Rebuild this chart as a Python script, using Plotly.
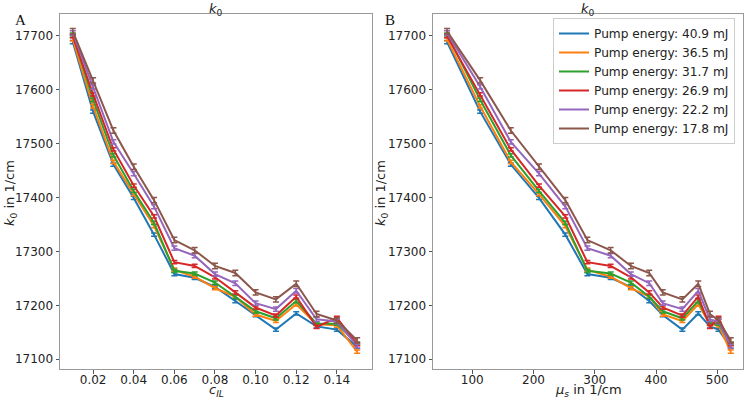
import plotly.graph_objects as go

W, H = 746, 400

c_il = [0.01, 0.02, 0.03, 0.04, 0.05, 0.06, 0.07, 0.08, 0.09, 0.10, 0.11, 0.12, 0.13, 0.14, 0.15]
mu_s = [59, 113, 163, 209, 252, 288, 326, 359, 389, 411, 443, 469, 488, 502, 522]

labels = ["Pump energy: 40.9 mJ", "Pump energy: 36.5 mJ", "Pump energy: 31.7 mJ",
          "Pump energy: 26.9 mJ", "Pump energy: 22.2 mJ", "Pump energy: 17.8 mJ"]
colors = ["#1f77b4", "#ff7f0e", "#2ca02c", "#d62728", "#9467bd", "#8c564b"]

k0_409 = [17688, 17559, 17461, 17399, 17331, 17258, 17251, 17234, 17208, 17182, 17155, 17185, 17161, 17155, 17123]
k0_365 = [17693, 17569, 17466, 17406, 17347, 17266, 17253, 17232, 17216, 17183, 17171, 17202, 17165, 17163, 17114]
k0_317 = [17702, 17581, 17478, 17412, 17353, 17264, 17259, 17242, 17216, 17189, 17176, 17208, 17166, 17166, 17129]
k0_269 = [17699, 17591, 17489, 17422, 17365, 17280, 17273, 17252, 17224, 17196, 17181, 17216, 17160, 17177, 17128]
k0_222 = [17705, 17605, 17503, 17444, 17383, 17306, 17292, 17258, 17241, 17204, 17193, 17227, 17174, 17170, 17125]
k0_178 = [17708, 17617, 17524, 17457, 17395, 17321, 17302, 17273, 17260, 17224, 17211, 17240, 17184, 17172, 17135]
series = [k0_409, k0_365, k0_317, k0_269, k0_222, k0_178]

err_409 = [3, 3, 3, 3, 3, 3, 3, 3, 3, 3, 3, 3, 3, 3, 3]
err_365 = [3, 3, 3, 3, 3, 3, 3, 3, 3, 3, 3, 3, 3, 3, 3]
err_317 = [3, 3, 3, 3, 3, 3, 3, 3, 3, 3, 3, 3, 3, 3, 3]
err_269 = [3, 3, 3, 3, 3, 3, 3, 3, 3, 3, 3, 3, 3, 3, 3]
err_222 = [4, 4, 4, 4, 4, 4, 4, 4, 4, 4, 4, 4, 4, 4, 4]
err_178 = [5, 5, 5, 5, 5, 5, 5, 5, 5, 5, 5, 5, 5, 5, 5]
errors = [err_409, err_365, err_317, err_269, err_222, err_178]


def px(x):
    return x / W


def py(y):
    return (H - y) / H


fig = go.Figure()
for i in range(6):
    fig.add_trace(go.Scatter(
        x=c_il, y=series[i], mode="lines", name=labels[i], showlegend=False,
        line=dict(color=colors[i], width=2),
        error_y=dict(type="data", array=errors[i], color=colors[i], thickness=1.5, width=3),
        xaxis="x", yaxis="y"))
for i in range(6):
    fig.add_trace(go.Scatter(
        x=mu_s, y=series[i], mode="lines", name=labels[i], showlegend=True,
        line=dict(color=colors[i], width=2),
        error_y=dict(type="data", array=errors[i], color=colors[i], thickness=1.5, width=3),
        xaxis="x2", yaxis="y2"))

frame = dict(showline=True, linecolor="#999999", linewidth=1, mirror=True, showgrid=False,
             zeroline=False, ticks="outside", ticklen=3.5, tickcolor="#555555",
             tickfont=dict(family="DejaVu Sans", size=12, color="#222222"))
yrange = [17082, 17740]

fig.update_layout(
    width=W, height=H,
    margin=dict(l=0, r=0, t=0, b=0),
    paper_bgcolor="white", plot_bgcolor="white",
    xaxis=dict(domain=[px(60), px(372)], range=[0.0037, 0.1573],
               tickvals=[0.02, 0.04, 0.06, 0.08, 0.10, 0.12, 0.14],
               tickformat=".2f", anchor="y", ticklabelstandoff=-4, **frame),
    yaxis=dict(domain=[py(369), py(14)], range=yrange, dtick=100, tick0=17100, tickformat="d", anchor="x", **frame),
    xaxis2=dict(domain=[px(433), px(743)], range=[36, 542], tickvals=[100, 200, 300, 400, 500],
                anchor="y2", ticklabelstandoff=-4, **frame),
    yaxis2=dict(domain=[py(369), py(14)], range=yrange, dtick=100, tick0=17100, tickformat="d", anchor="x2", **frame),
    legend=dict(x=px(553), y=py(18), xanchor="left", yanchor="top",
                bgcolor="rgba(255,255,255,0.9)", bordercolor="#cccccc", borderwidth=1,
                font=dict(family="DejaVu Sans", size=12.2, color="#222222"),
                tracegroupgap=0, itemwidth=30),
)

txt = dict(family="DejaVu Sans", size=13, color="#222222")
ann = [
    dict(x=px(216), y=py(0), text="<i>k</i><sub>0</sub>", yanchor="top"),
    dict(x=px(588), y=py(0), text="<i>k</i><sub>0</sub>", yanchor="top"),
    dict(x=px(216), y=py(400), text="<i>c</i><sub><i>IL</i></sub>", yanchor="bottom"),
    dict(x=px(588), y=py(400), text="<i>μ</i><sub><i>s</i></sub> in 1/cm", yanchor="bottom"),
    dict(x=px(10), y=py(193), text="<i>k</i><sub>0</sub> in 1/cm", textangle=-90, yanchor="middle"),
    dict(x=px(381), y=py(193), text="<i>k</i><sub>0</sub> in 1/cm", textangle=-90, yanchor="middle"),
]
for a in ann:
    fig.add_annotation(xref="paper", yref="paper", showarrow=False, xanchor="center",
                       font=txt, borderpad=0, **a)
fig.add_annotation(xref="paper", yref="paper", x=px(14), y=py(11), text="A", showarrow=False,
                   borderpad=0, font=dict(family="Liberation Serif", size=15, color="#111111"))
fig.add_annotation(xref="paper", yref="paper", x=px(390), y=py(11), text="B", showarrow=False,
                   borderpad=0, font=dict(family="Liberation Serif", size=15, color="#111111"))

fig.write_html("out.html", config={"displayModeBar": False},
               post_script="document.body.style.margin='0px';document.body.style.padding='0px';")
